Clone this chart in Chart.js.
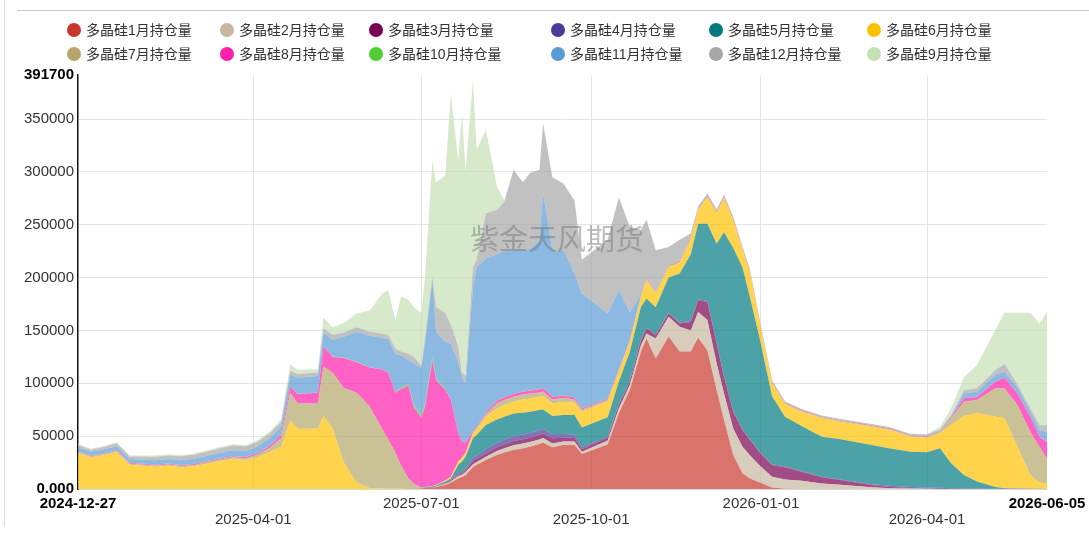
<!DOCTYPE html>
<html><head><meta charset="utf-8">
<script src="https://cdn.jsdelivr.net/npm/chart.js@4/dist/chart.umd.min.js"></script>
<style>
html,body{margin:0;padding:0;background:#fff;}
#wrap{position:relative;width:1089px;height:535px;overflow:hidden;}
#c{position:absolute;left:0;top:0;}
#frameTop{position:absolute;left:17px;top:10px;right:0;height:1px;background:#c8c8c8;}
#frameLeft{position:absolute;left:4px;top:0;width:1px;height:527px;background:#dcdcdc;}
</style></head><body>
<div id="wrap"><canvas id="c" width="1089" height="535"></canvas><div id="frameTop"></div><div id="frameLeft"></div></div>
<script>
// ---------- data ----------
const dates = [
'2024-12-27','2025-01-03','2025-01-10','2025-01-17','2025-01-24','2025-02-07','2025-02-14','2025-02-21','2025-02-28','2025-03-07',
'2025-03-14','2025-03-21','2025-03-28','2025-04-03','2025-04-10','2025-04-16','2025-04-21','2025-04-25','2025-05-06','2025-05-09',
'2025-05-14','2025-05-20','2025-05-27','2025-06-03','2025-06-10','2025-06-13','2025-06-17','2025-06-20','2025-06-24','2025-06-27',
'2025-07-01','2025-07-03','2025-07-07','2025-07-09','2025-07-14','2025-07-17','2025-07-21','2025-07-23','2025-07-25','2025-07-29',
'2025-07-31','2025-08-05','2025-08-11','2025-08-15','2025-08-20','2025-08-25','2025-08-29','2025-09-03','2025-09-05','2025-09-10',
'2025-09-16','2025-09-22','2025-09-26','2025-10-10','2025-10-16','2025-10-22','2025-10-28','2025-10-31','2025-11-05','2025-11-12',
'2025-11-18','2025-11-24','2025-11-28','2025-12-03','2025-12-08','2025-12-12','2025-12-17','2025-12-22','2025-12-26','2025-12-31',
'2026-01-07','2026-01-14','2026-01-23','2026-02-03','2026-02-13','2026-03-02','2026-03-12','2026-03-23','2026-04-01','2026-04-08',
'2026-04-14','2026-04-21','2026-04-28','2026-05-08','2026-05-13','2026-05-20','2026-05-27','2026-06-01','2026-06-05'];

const m1 = [
0,0,0,0,0,0,0,0,0,0, 0,0,0,0,0,0,0,0,0,0, 0,0,0,0,0,0,0,0,0,0,
500,1000,1500,2000,3800,6000,10000,11000,13000,20500,
22700,27400,32100,34600,36900,38400,40000,42500,43800,39400,
41600,41600,33000,42000,71500,93600,129800,142400,123500,144000,
130000,130000,143000,131000,93500,65000,32000,14800,10000,6300,
1500,300,0,0,0,0,0,0,0,0, 0,0,0,0,0,0,0,0,0];
const m2 = [
0,0,0,0,0,0,0,0,0,0, 0,0,0,0,0,0,0,0,0,0, 0,0,0,0,0,0,0,0,0,0,
0,0,0,300,1000,1200,2300,2500,3000,2800,
2800,3100,3800,3900,4400,4600,4400,4400,4400,3600,
3400,3400,2300,4000,4700,4700,6200,4700,18900,19000,
23400,20000,24500,29000,25500,25400,25300,25200,22000,16400,
10200,8700,7800,5300,4100,1600,800,400,200,100,
0,0,0,0,0,0,0,0,0];
const m3 = [
0,0,0,0,0,0,0,0,0,0, 0,0,0,0,0,0,0,0,0,0, 0,0,0,0,0,0,0,0,0,0,
0,0,0,0,500,800,1200,1500,1800,3500,
3200,3200,3500,3500,4100,4000,4400,4100,4100,4900,
3500,3500,2200,2500,3200,3100,4800,4700,3100,3000,
3100,8000,11100,17000,18600,15600,15700,15800,14300,12600,
11000,11500,8600,5700,4300,2200,1200,600,300,200,
100,0,0,0,0,0,0,0,0];
const m4 = [
0,0,0,0,0,0,0,0,0,0, 0,0,0,0,0,0,0,0,0,0, 0,0,0,0,0,0,0,0,0,0,
0,0,0,0,500,800,1300,1500,1700,2800,
2800,4100,4400,4500,4700,4500,4400,4500,4500,4100,
3500,3000,1900,1500,1000,1000,1000,1000,1000,1000,
1000,1000,900,1000,900,1000,1000,1000,1000,1000,
800,800,700,700,700,800,1000,1000,1000,800,
600,500,400,300,200,200,100,100,100];
const m5 = [
0,0,0,0,0,0,0,0,0,0, 0,0,0,0,0,0,0,0,0,0, 0,0,0,0,0,0,0,0,0,0,
0,500,800,1000,1200,1200,7900,9500,11000,18300,
19500,22700,22000,21900,21400,20600,19900,19200,18500,17000,
18000,18500,18900,18000,21000,27400,30500,27200,25500,33000,
46500,63000,71500,73000,93500,136000,154000,153000,134700,108700,
64500,47000,42500,37800,37900,37000,35400,33300,33200,37400,
23600,12700,6600,1700,500,300,200,100,0];
const m6 = [
34000,30000,32000,35000,23000,21000,22000,20500,21500,24000,
26500,28500,27500,30000,35000,40000,65000,57000,57000,69000,
57000,25000,6000,1000,500,300,200,200,0,0,
0,0,200,500,1000,1500,3300,3000,3200,4700,
5400,7900,10400,11000,11000,12600,12600,12600,12600,12000,
12500,11600,14800,15000,9600,9400,9400,18000,13000,10000,
10000,14000,13000,25000,29000,32000,26000,16000,23000,15000,
12000,12000,13400,17500,16700,17300,17400,14200,13800,14200,
36200,55800,65000,66500,66200,39400,12700,5900,5000];
const m7 = [
1000,1000,1000,1000,1000,1200,1200,1300,1300,1500,
1500,1600,1700,2500,4000,8000,26000,24000,24000,47000,
53000,70500,85000,77000,55500,46700,33800,22000,10000,5000,
1000,500,0,0,200,200,300,500,500,1300,
1200,2500,4800,4700,4800,4800,4700,4100,4300,3700,
3800,3100,2200,1500,1000,1000,800,800,800,800,
800,800,800,800,800,800,800,800,800,800,
800,800,800,800,800,800,800,800,1000,1600,
6500,13600,12300,26800,28300,39500,41000,33700,23600];
const m8 = [
500,500,600,600,600,700,700,700,800,800,
900,900,1000,1200,2000,3000,6000,9000,10000,19000,
15000,28500,29000,37000,57000,63000,57000,72500,88000,72000,
66000,76000,119000,99000,85800,73300,26700,15500,9800,900,
900,1600,2500,2500,2500,2500,2500,2800,3300,2600,
1900,1900,1200,1000,1000,1000,700,700,700,700,
700,700,700,700,700,700,700,700,600,600,
600,600,600,600,600,600,600,600,600,600,
800,3200,2700,6200,10400,11000,14200,9500,15800];
const m10 = [
200,200,200,200,200,200,200,200,200,200,
200,200,200,200,200,200,300,300,300,300,
300,300,300,300,300,300,500,1000,1500,2000,
2500,3000,3500,2000,500,300,300,200,200,200,
200,200,200,200,200,200,200,200,200,200,
200,200,200,200,200,200,200,200,200,200,
200,200,200,200,200,200,200,200,200,200,
200,200,200,200,200,200,200,200,200,200,
200,200,200,200,200,200,200,200,200];
const m11 = [
3500,3500,3500,3700,3500,4000,4200,4500,4800,5000,
5200,5400,5500,6000,7000,8000,11000,15000,15500,12700,
15700,19700,28200,29700,29700,31700,36500,30500,22500,40000,
44500,57000,73000,43500,45000,52000,67000,60000,56000,136000,
151300,145300,138300,138200,136000,134000,134000,140600,184300,138500,
137600,117200,108300,80300,74800,25600,1000,1000,500,300,
200,100,0,0,0,0,0,0,0,0,
0,0,0,0,0,0,0,0,500,600,
800,4500,4800,6300,5100,5500,4700,6100,9400];
const m12 = [
2500,2000,2500,2700,2500,3500,3500,3800,4000,4000,
4200,4500,4500,4500,4500,4000,3500,3500,3500,4000,
5000,4000,4500,4000,4000,4000,5000,4000,6000,6000,
2000,5000,3000,24000,27000,18000,15000,5000,7000,19000,
7000,43000,42000,47000,76000,64000,72000,67000,66000,69000,
63000,69000,32000,70000,88000,81000,60600,54300,38800,17000,
20000,4000,2000,2000,2000,2000,2000,2000,1500,1500,
1500,1200,1000,1000,1000,1000,1000,1000,800,800,
900,3200,3000,4600,7300,3100,3200,4700,6300];
const m9 = [
1000,800,1000,1000,800,1000,1000,1000,1000,1200,
1200,1300,1300,1500,2000,2500,6000,4000,3000,10000,
7000,9000,13000,20000,38000,42000,27000,52000,51000,47000,
50000,57000,110000,118000,130000,219000,175000,245000,193000,177000,
104000,79000,22000,1000,0,0,0,0,0,0,
0,0,0,0,0,0,0,0,0,0,
0,0,0,0,0,0,0,0,0,0,
0,0,0,0,0,0,0,500,500,2500,
6700,12000,22000,37800,48500,67500,90500,96300,107200];

const seriesNames = ['多晶硅1月持仓量','多晶硅2月持仓量','多晶硅3月持仓量','多晶硅4月持仓量','多晶硅5月持仓量','多晶硅6月持仓量',
                     '多晶硅7月持仓量','多晶硅8月持仓量','多晶硅10月持仓量','多晶硅11月持仓量','多晶硅12月持仓量','多晶硅9月持仓量'];
const seriesValues = [m1,m2,m3,m4,m5,m6,m7,m8,m10,m11,m12,m9];
const seriesColors = ['#c9372c','#c8b89f','#7b0051','#4a3b98','#007a80','#ffc000',
                      '#b5a66b','#ff1fab','#4fce34','#5b9bd5','#a6a6a6','#c5e0b3'];
const xTickDates = ['2024-12-27','2025-04-01','2025-07-01','2025-10-01','2026-01-01','2026-04-01','2026-06-05'];
const yTickValues = [0,50000,100000,150000,200000,250000,300000,350000,391700];
const watermark = '紫金天风期货';

// ---------- helpers ----------
const T0 = Date.UTC(2024,11,27), DAY = 86400000;
function dayOf(s){const p=s.split('-').map(Number);return Math.round((Date.UTC(p[0],p[1]-1,p[2])-T0)/DAY);}
function rgba(hex,a){const n=parseInt(hex.slice(1),16);return `rgba(${n>>16&255},${n>>8&255},${n&255},${a})`;}
const xs = dates.map(dayOf);
const xTickVals = xTickDates.map(dayOf);
const xMin = xTickVals[0], xMax = xTickVals[xTickVals.length-1];
const yMax = yTickValues[yTickValues.length-1];
const FONT = '"Liberation Sans", Arial, "Noto Sans CJK SC", sans-serif';

const datasets = seriesValues.map((vals,i)=>({
  label: seriesNames[i],
  data: vals.map((v,j)=>({x:xs[j], y:v})),
  backgroundColor: rgba(seriesColors[i],0.7),
  borderColor: rgba(seriesColors[i],0.7),
  borderWidth: 0,
  pointRadius: 0,
  tension: 0,
  fill: i===0 ? 'origin' : '-1'
}));

const legendPlugin = {
  id:'gridLegend',
  afterDraw(chart){
    const ctx = chart.ctx;
    const cols = [74,227,376,558,716,874], rows = [30,54];
    ctx.save();
    ctx.font = '14px ' + FONT;
    ctx.textBaseline = 'middle';
    ctx.textAlign = 'left';
    seriesNames.forEach((name,i)=>{
      const cx = cols[i%6], cy = rows[Math.floor(i/6)];
      ctx.beginPath(); ctx.arc(cx,cy,7,0,Math.PI*2);
      ctx.fillStyle = seriesColors[i]; ctx.fill();
      ctx.fillStyle = '#333';
      ctx.fillText(name, cx+12, cy+1);
    });
    ctx.restore();
  }
};
const watermarkPlugin = {
  id:'watermark',
  afterDatasetsDraw(chart){
    const ctx = chart.ctx;
    ctx.save();
    ctx.font = '29px "Noto Sans CJK SC", sans-serif';
    ctx.fillStyle = 'rgba(110,110,110,0.45)';
    ctx.textAlign = 'center'; ctx.textBaseline = 'middle';
    ctx.fillText(watermark, 557, 239);
    ctx.restore();
  }
};

const isEdgeX = v => v===xMin || v===xMax;
const isEdgeY = v => v===0 || v===yMax;

new Chart(document.getElementById('c').getContext('2d'), {
  type:'line',
  data:{datasets},
  options:{
    responsive:false, animation:false,
    layout:{padding:{top:75,right:42,left:0,bottom:0}},
    plugins:{legend:{display:false}, tooltip:{enabled:false}},
    scales:{
      x:{
        type:'linear', min:xMin, max:xMax,
        afterBuildTicks:s=>{s.ticks = xTickVals.map(v=>({value:v}));},
        afterFit:s=>{s.height = 46; s.paddingLeft = 0; s.paddingRight = 0;},
        grid:{color:c=> (c.tick && isEdgeX(c.tick.value)) ? 'rgba(0,0,0,0)' : '#e4e4e4', drawTicks:false},
        border:{display:true,color:'#dadada'},
        ticks:{
          autoSkip:false, maxRotation:0, padding:7,
          font:c=>({family:FONT,size:15,weight:(c.tick && isEdgeX(c.tick.value))?'bold':'normal',lineHeight:1.07}),
          color:c=>(c.tick && isEdgeX(c.tick.value))?'#000':'#333',
          callback:(v,i)=>{const lbl = xTickDates[i]; return i%2 ? ['',lbl] : lbl;}
        }
      },
      y:{
        stacked:true, min:0, max:yMax,
        afterBuildTicks:s=>{s.ticks = yTickValues.map(v=>({value:v}));},
        afterFit:s=>{s.width = 78; s.paddingTop = 0; s.paddingBottom = 0;},
        grid:{color:c=>(c.tick && c.tick.value===yMax)?'rgba(0,0,0,0)':'#e4e4e4', drawTicks:false},
        border:{display:true,color:'#111',width:1.5},
        ticks:{
          padding:4,
          font:c=>({family:FONT,size:15,weight:(c.tick && isEdgeY(c.tick.value))?'bold':'normal'}),
          color:c=>(c.tick && isEdgeY(c.tick.value))?'#000':'#333',
          callback:v=> v===0 ? '0.000' : String(v)
        }
      }
    }
  },
  plugins:[watermarkPlugin, legendPlugin]
});
</script>
</body></html>
